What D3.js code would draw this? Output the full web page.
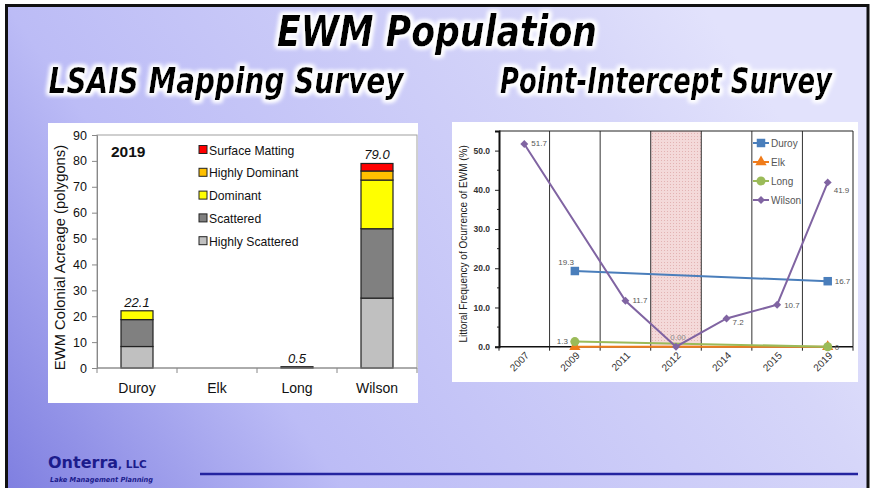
<!DOCTYPE html>
<html>
<head>
<meta charset="utf-8">
<script src="https://cdn.jsdelivr.net/npm/d3@7"></script>
<style>
body { margin: 0; background: #fff; }
svg { display: block; }
</style>
</head>
<body>
<svg width="872" height="488"></svg>
<script>
var svg = d3.select('svg');

// ---- left chart: LSAIS mapping, 2019 acreage by class ----
var lakes = ["Duroy", "Elk", "Long", "Wilson"];
var classNames = ["Highly Scattered", "Scattered", "Dominant", "Highly Dominant", "Surface Matting"];
var highlyScattered = [8.3, 0, 0.5, 27.0];
var scattered = [10.4, 0, 0, 26.8];
var dominant = [3.4, 0, 0, 18.8];
var highlyDominant = [0, 0, 0, 3.5];
var surfaceMatting = [0, 0, 0, 2.9];
var totalLabels = ["22.1", "", "0.5", "79.0"];
var acreTicks = [0, 10, 20, 30, 40, 50, 60, 70, 80, 90];
var classColors = ["#c0c0c0", "#808080", "#ffff00", "#ffc000", "#ff0000"];

// ---- right chart: point-intercept frequency ----
var years = ["2007", "2009", "2011", "2012", "2014", "2015", "2019"];
var duroy = [null, 19.3, null, null, null, null, 16.7];
var elk = [null, 0, null, null, null, null, 0];
var longLake = [null, 1.3, null, null, null, null, 0];
var wilson = [51.7, null, 11.7, 0, 7.2, 10.7, 41.9];
var duroyLabels = [null, "19.3", null, null, null, null, "16.7"];
var longLabels = [null, "1.3", null, null, null, null, "0"];
var wilsonLabels = ["51.7", null, "11.7", "0.00", "7.2", "10.7", "41.9"];
var freqTicks = [0, 10, 20, 30, 40, 50];
var shadedYear = "2012";

var defs = svg.append('defs');

// slide background
var grad = defs.append('linearGradient').attr('id', 'bg')
  .attr('gradientUnits', 'userSpaceOnUse')
  .attr('x1', 0).attr('y1', 488).attr('x2', 700).attr('y2', 0);
grad.append('stop').attr('offset', 0).attr('stop-color', '#7e7ee0');
grad.append('stop').attr('offset', 0.33).attr('stop-color', '#bcbcf6');
grad.append('stop').attr('offset', 0.84).attr('stop-color', '#d6d6f9');
grad.append('stop').attr('offset', 1).attr('stop-color', '#e2e2fc');

var glow = defs.append('filter').attr('id', 'glow')
  .attr('x', '-10%').attr('y', '-40%').attr('width', '120%').attr('height', '180%');
glow.append('feMorphology').attr('in', 'SourceAlpha').attr('operator', 'dilate').attr('radius', 1.5).attr('result', 'd');
glow.append('feGaussianBlur').attr('in', 'd').attr('stdDeviation', 2).attr('result', 'b');
glow.append('feFlood').attr('flood-color', '#ffffff');
glow.append('feComposite').attr('in2', 'b').attr('operator', 'in').attr('result', 'g');
var merge = glow.append('feMerge');
merge.append('feMergeNode').attr('in', 'g');
merge.append('feMergeNode').attr('in', 'g');
merge.append('feMergeNode').attr('in', 'SourceGraphic');

var pat = defs.append('pattern').attr('id', 'dots')
  .attr('width', 3).attr('height', 3).attr('patternUnits', 'userSpaceOnUse');
pat.append('rect').attr('width', 3).attr('height', 3).attr('fill', '#f4d9d9');
pat.append('rect').attr('x', 1).attr('y', 1).attr('width', 1).attr('height', 1).attr('fill', '#e3b3b3');

svg.append('rect').attr('width', 872).attr('height', 488).attr('fill', '#fff');
svg.append('rect')
  .attr('x', 6.5).attr('y', 5.5).attr('width', 861.5).attr('height', 500)
  .attr('fill', 'url(#bg)').attr('stroke', '#111').attr('stroke-width', 3);

// titles: squeeze horizontally to the width seen on the slide
var titleFont = '"DejaVu Sans Condensed", "Liberation Sans Narrow", sans-serif';
function title(txt, x, y, size, width) {
  var g = svg.append('g').attr('filter', 'url(#glow)');
  var t = g.append('text')
    .attr('text-anchor', 'middle')
    .attr('font-family', titleFont)
    .attr('font-weight', 'bold').attr('font-style', 'italic')
    .attr('font-size', size)
    .attr('fill', '#000')
    .text(txt);
  var natural = t.node().getComputedTextLength();
  t.attr('transform', 'translate(' + x + ',' + y + ') scale(' + (width / natural) + ',1)');
}
title("EWM Population", 437, 46, 42, 320);
title("LSAIS Mapping Survey", 226, 93, 35, 355);
title("Point-Intercept Survey", 666, 93, 35, 332);

// ================= left chart =================
svg.append('rect').attr('x', 48).attr('y', 123).attr('width', 370).attr('height', 280).attr('fill', '#fff');

var x = d3.scaleBand().domain(lakes).range([97, 417]).paddingInner(0.6).paddingOuter(0.3);
var y = d3.scaleLinear().domain([0, 90]).range([368, 135]);

var rows = lakes.map(function (lake, i) {
  return {
    lake: lake,
    "Highly Scattered": highlyScattered[i],
    "Scattered": scattered[i],
    "Dominant": dominant[i],
    "Highly Dominant": highlyDominant[i],
    "Surface Matting": surfaceMatting[i]
  };
});
var stacked = d3.stack().keys(classNames)(rows);

var left = svg.append('g');

// plot border
left.append('rect')
  .attr('x', x.range()[0]).attr('y', y(90))
  .attr('width', x.range()[1] - x.range()[0]).attr('height', y(0) - y(90))
  .attr('fill', 'none').attr('stroke', '#a0a0a0').attr('stroke-width', 1);

left.selectAll('g.layer')
  .data(stacked)
  .enter()
  .append('g')
  .attr('class', 'layer')
  .attr('fill', function (d, i) { return classColors[i]; })
  .selectAll('rect')
  .data(function (d) { return d.filter(function (s) { return s[1] - s[0] > 0; }); })
  .enter()
  .append('rect')
  .attr('x', function (d) { return x(d.data.lake); })
  .attr('y', function (d) { return y(d[1]); })
  .attr('width', x.bandwidth())
  .attr('height', function (d) { return y(d[0]) - y(d[1]); })
  .attr('stroke', '#222')
  .attr('stroke-width', 1.2);

var yAxisL = left.append('g')
  .attr('transform', 'translate(' + x.range()[0] + ',0)')
  .call(d3.axisLeft(y).tickValues(acreTicks).tickSize(5).tickPadding(5));
yAxisL.select('.domain').attr('stroke', '#888');
yAxisL.selectAll('.tick line').attr('stroke', '#888');
yAxisL.selectAll('text').attr('font-family', 'Liberation Sans, Arial, sans-serif').attr('font-size', 12.5).attr('fill', '#111');

left.append('line')
  .attr('x1', x.range()[0]).attr('x2', x.range()[1])
  .attr('y1', y(0)).attr('y2', y(0))
  .attr('stroke', '#888');

var bounds = d3.range(lakes.length + 1).map(function (i) { return x.range()[0] + i * x.step(); });
left.selectAll('line.xt')
  .data(bounds)
  .enter()
  .append('line')
  .attr('class', 'xt')
  .attr('x1', function (d) { return d; }).attr('x2', function (d) { return d; })
  .attr('y1', y(0)).attr('y2', y(0) + 5)
  .attr('stroke', '#888');

left.selectAll('text.cat')
  .data(lakes)
  .enter()
  .append('text')
  .attr('class', 'cat')
  .attr('x', function (d) { return x(d) + x.bandwidth() / 2; })
  .attr('y', y(0) + 25)
  .attr('text-anchor', 'middle')
  .attr('font-family', 'Liberation Sans, Arial, sans-serif')
  .attr('font-size', 14)
  .attr('fill', '#111')
  .text(function (d) { return d; });

left.selectAll('text.tot')
  .data(lakes)
  .enter()
  .append('text')
  .attr('class', 'tot')
  .attr('x', function (d) { return x(d) + x.bandwidth() / 2; })
  .attr('y', function (d, i) {
    return y(highlyScattered[i] + scattered[i] + dominant[i] + highlyDominant[i] + surfaceMatting[i]) - 4;
  })
  .attr('text-anchor', 'middle')
  .attr('font-family', 'Liberation Sans, Arial, sans-serif')
  .attr('font-style', 'italic')
  .attr('font-size', 13)
  .attr('fill', '#111')
  .text(function (d, i) { return totalLabels[i]; });

left.append('text')
  .attr('transform', 'translate(65,' + ((y(0) + y(90)) / 2 + 6) + ') rotate(-90)')
  .attr('text-anchor', 'middle')
  .attr('font-family', 'Liberation Sans, Arial, sans-serif')
  .attr('font-size', 14.8)
  .attr('fill', '#111')
  .text("EWM Colonial Acreage (polygons)");

left.append('text')
  .attr('x', 111).attr('y', 157)
  .attr('font-family', 'Liberation Sans, Arial, sans-serif')
  .attr('font-weight', 'bold')
  .attr('font-size', 15.5)
  .attr('fill', '#111')
  .text("2019");

var legendL = left.selectAll('g.leg')
  .data(classNames.slice().reverse())
  .enter()
  .append('g')
  .attr('class', 'leg')
  .attr('transform', function (d, i) { return 'translate(199,' + (150 + i * 22.8) + ')'; });
legendL.append('rect')
  .attr('x', 0).attr('y', -4.5).attr('width', 8).attr('height', 8)
  .attr('fill', function (d) { return classColors[classNames.indexOf(d)]; })
  .attr('stroke', '#222').attr('stroke-width', 1);
legendL.append('text')
  .attr('x', 10).attr('y', 4.5)
  .attr('font-family', 'Liberation Sans, Arial, sans-serif')
  .attr('font-size', 12.2)
  .attr('fill', '#111')
  .text(function (d) { return d; });

// ================= right chart =================
svg.append('rect').attr('x', 452).attr('y', 122).attr('width', 406).attr('height', 260).attr('fill', '#fff');

var xr = d3.scaleBand().domain(years).range([499, 853]);
var yr = d3.scaleLinear().domain([0, 55]).range([346.7, 131]);
function cx(i) { return xr(years[i]) + xr.bandwidth() / 2; }

var right = svg.append('g');

right.append('rect')
  .attr('x', xr(shadedYear)).attr('y', yr(55))
  .attr('width', xr.bandwidth()).attr('height', yr(0) - yr(55))
  .attr('fill', 'url(#dots)');

right.selectAll('line.vb')
  .data(years.slice(1))
  .enter()
  .append('line')
  .attr('class', 'vb')
  .attr('x1', function (d) { return xr(d); }).attr('x2', function (d) { return xr(d); })
  .attr('y1', yr(55)).attr('y2', yr(0))
  .attr('stroke', '#333').attr('stroke-width', 1);

right.append('line')
  .attr('x1', xr.range()[0]).attr('x2', xr.range()[1])
  .attr('y1', yr(55)).attr('y2', yr(55))
  .attr('stroke', '#222');
right.append('line')
  .attr('x1', xr.range()[1]).attr('x2', xr.range()[1])
  .attr('y1', yr(55)).attr('y2', yr(0))
  .attr('stroke', '#222');

// minor ticks every 5
right.selectAll('line.minor')
  .data(d3.range(5, 55, 10))
  .enter()
  .append('line')
  .attr('class', 'minor')
  .attr('x1', xr.range()[0] - 2).attr('x2', xr.range()[0])
  .attr('y1', function (d) { return yr(d); }).attr('y2', function (d) { return yr(d); })
  .attr('stroke', '#222');

var yAxisR = right.append('g')
  .attr('transform', 'translate(' + xr.range()[0] + ',0)')
  .call(d3.axisLeft(yr).tickValues(freqTicks).tickFormat(d3.format('.1f')).tickSize(4).tickPadding(5));
yAxisR.select('.domain').attr('stroke', '#111').attr('stroke-width', 2);
yAxisR.selectAll('.tick line').attr('stroke', '#222');
yAxisR.selectAll('text').attr('font-family', 'Liberation Sans, Arial, sans-serif')
  .attr('font-size', 8.5).attr('font-weight', 'bold').attr('fill', '#333');

right.append('line')
  .attr('x1', xr.range()[0]).attr('x2', xr.range()[1])
  .attr('y1', yr(0)).attr('y2', yr(0))
  .attr('stroke', '#111').attr('stroke-width', 1.5);

var rb = d3.range(years.length + 1).map(function (i) { return xr.range()[0] + i * xr.step(); });
right.selectAll('line.xt')
  .data(rb)
  .enter()
  .append('line')
  .attr('class', 'xt')
  .attr('x1', function (d) { return d; }).attr('x2', function (d) { return d; })
  .attr('y1', yr(0)).attr('y2', yr(0) + 4)
  .attr('stroke', '#222');

right.selectAll('text.yr')
  .data(years)
  .enter()
  .append('text')
  .attr('class', 'yr')
  .attr('transform', function (d, i) { return 'translate(' + (cx(i) + 3) + ',' + (yr(0) + 7) + ') rotate(-45)'; })
  .attr('text-anchor', 'end')
  .attr('dy', '0.35em')
  .attr('font-family', 'Liberation Sans, Arial, sans-serif')
  .attr('font-size', 10)
  .attr('fill', '#333')
  .text(function (d) { return d; });

right.append('text')
  .attr('transform', 'translate(467,' + ((yr(0) + yr(55)) / 2 + 5) + ') rotate(-90)')
  .attr('text-anchor', 'middle')
  .attr('font-family', 'Liberation Sans, Arial, sans-serif')
  .attr('font-size', 10)
  .attr('fill', '#222')
  .text("Littoral Frequency of Ocurrence of EWM (%)");

var series = [
  { name: "Duroy", values: duroy, color: "#4a7ebb", symbol: d3.symbolSquare, size: 72 },
  { name: "Elk", values: elk, color: "#f07c1a", symbol: d3.symbolTriangle, size: 55 },
  { name: "Long", values: longLake, color: "#9bbb59", symbol: d3.symbolCircle, size: 64 },
  { name: "Wilson", values: wilson, color: "#8064a2", symbol: d3.symbolDiamond2, size: 40 }
];

var line = d3.line()
  .x(function (d) { return cx(d.i); })
  .y(function (d) { return yr(d.v); });

series.forEach(function (s) {
  var pts = s.values.map(function (v, i) { return { v: v, i: i }; })
    .filter(function (d) { return d.v != null; });
  right.append('path')
    .attr('d', line(pts))
    .attr('fill', 'none')
    .attr('stroke', s.color)
    .attr('stroke-width', 2);
  right.selectAll(null)
    .data(pts)
    .enter()
    .append('path')
    .attr('d', d3.symbol().type(s.symbol).size(s.size))
    .attr('transform', function (d) { return 'translate(' + cx(d.i) + ',' + yr(d.v) + ')'; })
    .attr('fill', s.color);
});

// data labels: offsets from the point
var labelSets = [
  { text: duroyLabels, values: duroy, place: [null, [-1, -6, 'end'], null, null, null, null, [7, 3, 'start']] },
  { text: longLabels, values: longLake, place: [null, [-7, 2, 'end'], null, null, null, null, [7, 3, 'start']] },
  { text: wilsonLabels, values: wilson, place: [[7, 2, 'start'], null, [7, 2, 'start'], [2, -7, 'middle'], [6, 7, 'start'], [7, 3, 'start'], [6, 11, 'start']] }
];
labelSets.forEach(function (ls) {
  ls.text.forEach(function (t, i) {
    if (t == null) return;
    var p = ls.place[i];
    right.append('text')
      .attr('x', cx(i) + p[0])
      .attr('y', yr(ls.values[i]) + p[1])
      .attr('text-anchor', p[2])
      .attr('font-family', 'Liberation Sans, Arial, sans-serif')
      .attr('font-size', 8)
      .attr('fill', t === "0.00" ? '#8a8a8a' : '#555')
      .text(t);
  });
});

var legR = right.selectAll('g.legr')
  .data(series)
  .enter()
  .append('g')
  .attr('class', 'legr')
  .attr('transform', function (d, i) { return 'translate(753,' + (143 + i * 19) + ')'; });
legR.append('line')
  .attr('x1', 0).attr('x2', 16)
  .attr('stroke', function (d) { return d.color; })
  .attr('stroke-width', 2);
legR.append('path')
  .attr('d', function (d) { return d3.symbol().type(d.symbol).size(d.size)(); })
  .attr('transform', 'translate(8,0)')
  .attr('fill', function (d) { return d.color; });
legR.append('text')
  .attr('x', 18).attr('y', 3.6)
  .attr('font-family', 'Liberation Sans, Arial, sans-serif')
  .attr('font-size', 10)
  .attr('fill', '#555')
  .text(function (d) { return d.name; });

// ================= footer =================
var foot = svg.append('text')
  .attr('x', 48).attr('y', 468)
  .attr('font-family', 'DejaVu Sans, sans-serif')
  .attr('font-weight', 'bold')
  .attr('fill', '#1c1c8c');
foot.append('tspan').attr('font-size', 16).text("Onterra");
foot.append('tspan').attr('font-size', 10.5).text(", LLC");
svg.append('text')
  .attr('x', 50).attr('y', 482)
  .attr('font-family', 'DejaVu Sans, sans-serif')
  .attr('font-weight', 'bold').attr('font-style', 'italic')
  .attr('font-size', 7)
  .attr('textLength', 103).attr('lengthAdjust', 'spacingAndGlyphs')
  .attr('fill', '#1c1c8c')
  .text("Lake Management Planning");

svg.append('line')
  .attr('x1', 200).attr('x2', 858)
  .attr('y1', 474).attr('y2', 474)
  .attr('stroke', '#2424a0').attr('stroke-width', 2.5);
</script>
</body>
</html>
